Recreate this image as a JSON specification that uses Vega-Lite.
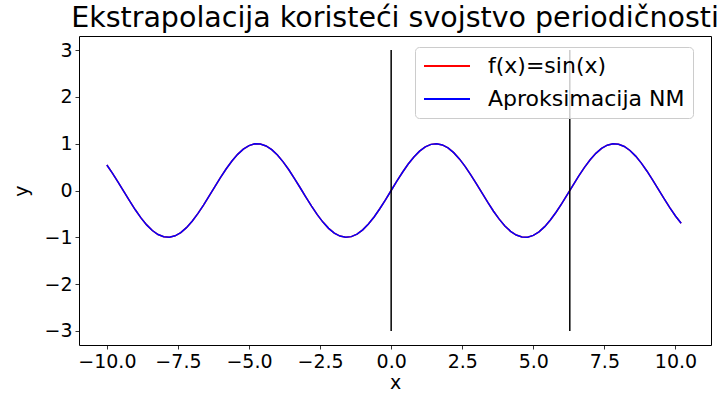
{
  "$schema": "https://vega.github.io/schema/vega-lite/v6.json",
  "width": 632,
  "height": 309,
  "autosize": {"type": "none"},
  "padding": {"left": 79, "top": 36, "right": 9, "bottom": 53},
  "background": "white",
  "config": {
    "font": "DejaVu Sans",
    "view": {"stroke": "black", "strokeWidth": 1},
    "axis": {
      "grid": false,
      "domain": false,
      "labelFont": "DejaVu Sans",
      "titleFont": "DejaVu Sans",
      "labelFontSize": 19,
      "titleFontSize": 19,
      "titleFontWeight": "normal",
      "labelColor": "black",
      "titleColor": "black",
      "tickColor": "black",
      "tickSize": 4,
      "tickWidth": 0.8,
      "labelPadding": 3
    },
    "title": {"font": "DejaVu Sans", "fontSize": 28.5, "fontWeight": "normal", "color": "black", "anchor": "middle", "offset": 4}
  },
  "title": "Ekstrapolacija koristeći svojstvo periodičnosti",
  "datasets": {
    "curve": [
      {"x": -10.0, "f": 0.54402, "nm": 0.54402},
      {"x": -9.8, "f": 0.36648, "nm": 0.36648},
      {"x": -9.6, "f": 0.17433, "nm": 0.17433},
      {"x": -9.4, "f": -0.02478, "nm": -0.02478},
      {"x": -9.2, "f": -0.22289, "nm": -0.22289},
      {"x": -9.0, "f": -0.41212, "nm": -0.41212},
      {"x": -8.8, "f": -0.58491, "nm": -0.58491},
      {"x": -8.6, "f": -0.73457, "nm": -0.73457},
      {"x": -8.4, "f": -0.85460, "nm": -0.85460},
      {"x": -8.2, "f": -0.94073, "nm": -0.94073},
      {"x": -8.0, "f": -0.98936, "nm": -0.98936},
      {"x": -7.8, "f": -0.99854, "nm": -0.99854},
      {"x": -7.6, "f": -0.96792, "nm": -0.96792},
      {"x": -7.4, "f": -0.89870, "nm": -0.89870},
      {"x": -7.2, "f": -0.79367, "nm": -0.79367},
      {"x": -7.0, "f": -0.65699, "nm": -0.65699},
      {"x": -6.8, "f": -0.49411, "nm": -0.49411},
      {"x": -6.6, "f": -0.31154, "nm": -0.31154},
      {"x": -6.4, "f": -0.11655, "nm": -0.11655},
      {"x": -6.2, "f": 0.08309, "nm": 0.08309},
      {"x": -6.0, "f": 0.27942, "nm": 0.27942},
      {"x": -5.8, "f": 0.46460, "nm": 0.46460},
      {"x": -5.6, "f": 0.63127, "nm": 0.63127},
      {"x": -5.4, "f": 0.77276, "nm": 0.77276},
      {"x": -5.2, "f": 0.88345, "nm": 0.88345},
      {"x": -5.0, "f": 0.95892, "nm": 0.95892},
      {"x": -4.8, "f": 0.99616, "nm": 0.99616},
      {"x": -4.6, "f": 0.99369, "nm": 0.99369},
      {"x": -4.4, "f": 0.95160, "nm": 0.95160},
      {"x": -4.2, "f": 0.87158, "nm": 0.87158},
      {"x": -4.0, "f": 0.75680, "nm": 0.75680},
      {"x": -3.8, "f": 0.61186, "nm": 0.61186},
      {"x": -3.6, "f": 0.44252, "nm": 0.44252},
      {"x": -3.4, "f": 0.25554, "nm": 0.25554},
      {"x": -3.2, "f": 0.05837, "nm": 0.05837},
      {"x": -3.0, "f": -0.14112, "nm": -0.14112},
      {"x": -2.8, "f": -0.33499, "nm": -0.33499},
      {"x": -2.6, "f": -0.51550, "nm": -0.51550},
      {"x": -2.4, "f": -0.67546, "nm": -0.67546},
      {"x": -2.2, "f": -0.80850, "nm": -0.80850},
      {"x": -2.0, "f": -0.90930, "nm": -0.90930},
      {"x": -1.8, "f": -0.97385, "nm": -0.97385},
      {"x": -1.6, "f": -0.99957, "nm": -0.99957},
      {"x": -1.4, "f": -0.98545, "nm": -0.98545},
      {"x": -1.2, "f": -0.93204, "nm": -0.93204},
      {"x": -1.0, "f": -0.84147, "nm": -0.84147},
      {"x": -0.8, "f": -0.71736, "nm": -0.71736},
      {"x": -0.6, "f": -0.56464, "nm": -0.56464},
      {"x": -0.4, "f": -0.38942, "nm": -0.38942},
      {"x": -0.2, "f": -0.19867, "nm": -0.19867},
      {"x": 0.0, "f": 0.0, "nm": 0.0},
      {"x": 0.2, "f": 0.19867, "nm": 0.19867},
      {"x": 0.4, "f": 0.38942, "nm": 0.38942},
      {"x": 0.6, "f": 0.56464, "nm": 0.56464},
      {"x": 0.8, "f": 0.71736, "nm": 0.71736},
      {"x": 1.0, "f": 0.84147, "nm": 0.84147},
      {"x": 1.2, "f": 0.93204, "nm": 0.93204},
      {"x": 1.4, "f": 0.98545, "nm": 0.98545},
      {"x": 1.6, "f": 0.99957, "nm": 0.99957},
      {"x": 1.8, "f": 0.97385, "nm": 0.97385},
      {"x": 2.0, "f": 0.90930, "nm": 0.90930},
      {"x": 2.2, "f": 0.80850, "nm": 0.80850},
      {"x": 2.4, "f": 0.67546, "nm": 0.67546},
      {"x": 2.6, "f": 0.51550, "nm": 0.51550},
      {"x": 2.8, "f": 0.33499, "nm": 0.33499},
      {"x": 3.0, "f": 0.14112, "nm": 0.14112},
      {"x": 3.2, "f": -0.05837, "nm": -0.05837},
      {"x": 3.4, "f": -0.25554, "nm": -0.25554},
      {"x": 3.6, "f": -0.44252, "nm": -0.44252},
      {"x": 3.8, "f": -0.61186, "nm": -0.61186},
      {"x": 4.0, "f": -0.75680, "nm": -0.75680},
      {"x": 4.2, "f": -0.87158, "nm": -0.87158},
      {"x": 4.4, "f": -0.95160, "nm": -0.95160},
      {"x": 4.6, "f": -0.99369, "nm": -0.99369},
      {"x": 4.8, "f": -0.99616, "nm": -0.99616},
      {"x": 5.0, "f": -0.95892, "nm": -0.95892},
      {"x": 5.2, "f": -0.88345, "nm": -0.88345},
      {"x": 5.4, "f": -0.77276, "nm": -0.77276},
      {"x": 5.6, "f": -0.63127, "nm": -0.63127},
      {"x": 5.8, "f": -0.46460, "nm": -0.46460},
      {"x": 6.0, "f": -0.27942, "nm": -0.27942},
      {"x": 6.2, "f": -0.08309, "nm": -0.08309},
      {"x": 6.4, "f": 0.11655, "nm": 0.11655},
      {"x": 6.6, "f": 0.31154, "nm": 0.31154},
      {"x": 6.8, "f": 0.49411, "nm": 0.49411},
      {"x": 7.0, "f": 0.65699, "nm": 0.65699},
      {"x": 7.2, "f": 0.79367, "nm": 0.79367},
      {"x": 7.4, "f": 0.89870, "nm": 0.89870},
      {"x": 7.6, "f": 0.96792, "nm": 0.96792},
      {"x": 7.8, "f": 0.99854, "nm": 0.99854},
      {"x": 8.0, "f": 0.98936, "nm": 0.98936},
      {"x": 8.2, "f": 0.94073, "nm": 0.94073},
      {"x": 8.4, "f": 0.85460, "nm": 0.85460},
      {"x": 8.6, "f": 0.73457, "nm": 0.73457},
      {"x": 8.8, "f": 0.58491, "nm": 0.58491},
      {"x": 9.0, "f": 0.41212, "nm": 0.41212},
      {"x": 9.2, "f": 0.22289, "nm": 0.22289},
      {"x": 9.4, "f": 0.02478, "nm": 0.02478},
      {"x": 9.6, "f": -0.17433, "nm": -0.17433},
      {"x": 9.8, "f": -0.36648, "nm": -0.36648},
      {"x": 10.0, "f": -0.54402, "nm": -0.54402},
      {"x": 10.2, "f": -0.69987, "nm": -0.69987}
    ],
    "lines": [
      {"x": 0.0, "y0": -3, "y1": 3},
      {"x": 6.2832, "y0": -3, "y1": 3}
    ]
  },
  "layer": [
    {
      "data": {"name": "curve"},
      "mark": {"type": "line", "strokeWidth": 1.5, "clip": true},
      "encoding": {
        "x": {"field": "x", "type": "quantitative", "scale": {"domain": [-10.98, 11.25], "nice": false, "zero": false},
              "axis": {"title": "x", "values": [-10, -7.5, -5, -2.5, 0, 2.5, 5, 7.5, 10], "format": ".1f", "titlePadding": 2}},
        "y": {"field": "f", "type": "quantitative", "scale": {"domain": [-3.3, 3.3], "nice": false, "zero": false},
              "axis": {"title": "y", "values": [-3, -2, -1, 0, 1, 2, 3], "format": "d", "titlePadding": 12}},
        "color": {
          "datum": "f(x)=sin(x)",
          "scale": {"domain": ["f(x)=sin(x)", "Aproksimacija NM"], "range": ["#ff0000", "#0000ff"]},
          "legend": {
            "title": null,
            "orient": "none",
            "legendX": 336,
            "legendY": 11,
            "symbolType": "stroke",
            "symbolSize": 2116,
            "symbolStrokeWidth": 2,
            "labelFont": "DejaVu Sans",
            "labelFontSize": 22,
            "labelColor": "black",
            "labelOffset": 17,
            "labelLimit": 400,
            "clipHeight": 22,
            "rowPadding": 11,
            "padding": 8,
            "strokeColor": "#cccccc",
            "fillColor": "rgba(255,255,255,0.8)",
            "cornerRadius": 4
          }
        }
      }
    },
    {
      "data": {"name": "curve"},
      "mark": {"type": "line", "strokeWidth": 1.5, "clip": true},
      "encoding": {
        "x": {"field": "x", "type": "quantitative"},
        "y": {"field": "nm", "type": "quantitative"},
        "color": {"datum": "Aproksimacija NM"}
      }
    },
    {
      "data": {"name": "lines"},
      "mark": {"type": "rule", "color": "black", "strokeWidth": 1.5},
      "encoding": {
        "x": {"field": "x", "type": "quantitative"},
        "y": {"field": "y0", "type": "quantitative"},
        "y2": {"field": "y1"}
      }
    }
  ]
}
